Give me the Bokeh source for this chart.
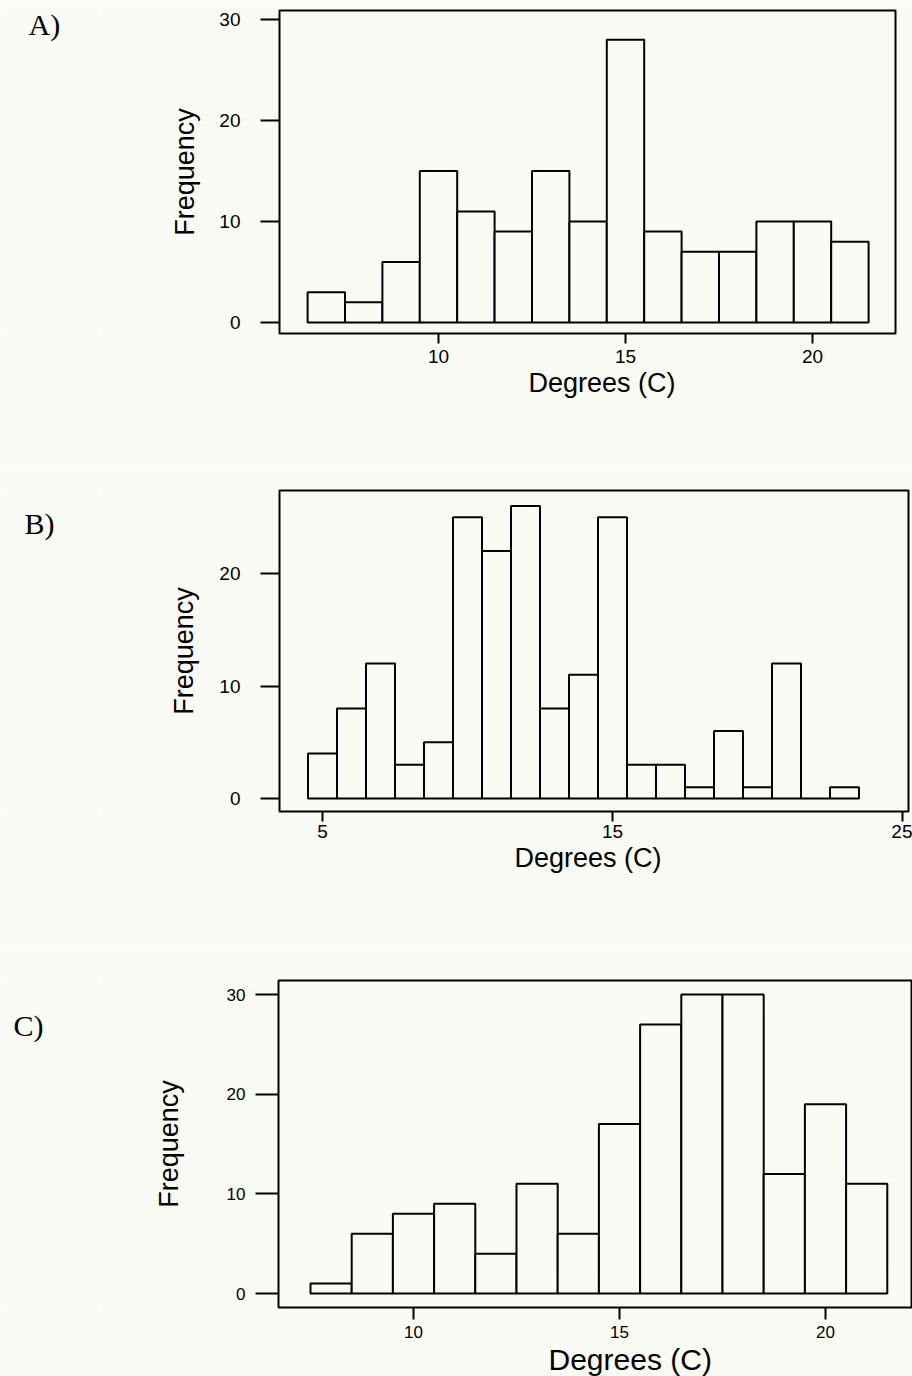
from bokeh.plotting import figure
from bokeh.layouts import column, row
from bokeh.models import FixedTicker, Range1d, Title
from bokeh.core.properties import value
from bokeh.embed import file_html
from bokeh.resources import INLINE

BG = "#fbfbf5"
SANS = "Liberation Sans"
SERIF = "Liberation Serif"

# ---------------- data ----------------
a_centers = [7, 8, 9, 10, 11, 12, 13, 14, 15, 16, 17, 18, 19, 20, 21]
a_counts = [3, 2, 6, 15, 11, 9, 15, 10, 28, 9, 7, 7, 10, 10, 8]
a_xticks = [10, 15, 20]
a_yticks = [0, 10, 20, 30]

b_centers = [5, 6, 7, 8, 9, 10, 11, 12, 13, 14, 15, 16, 17, 18, 19, 20, 21, 22, 23]
b_counts = [4, 8, 12, 3, 5, 25, 22, 26, 8, 11, 25, 3, 3, 1, 6, 1, 12, 0, 1]
b_xticks = [5, 15, 25]
b_yticks = [0, 10, 20]

c_centers = [8, 9, 10, 11, 12, 13, 14, 15, 16, 17, 18, 19, 20, 21]
c_counts = [1, 6, 8, 9, 4, 11, 6, 17, 27, 30, 30, 12, 19, 11]
c_xticks = [10, 15, 20]
c_yticks = [0, 10, 20, 30]

panel_letters = ["A)", "B)", "C)"]
x_title = "Degrees (C)"
y_title = "Frequency"

LETTER_W = 100  # width of the strip holding the panel letter


def letter_strip(letter, fig_h, pos):
    s = figure(width=LETTER_W, height=fig_h, x_range=Range1d(0, LETTER_W),
               y_range=Range1d(fig_h, 0), output_backend="svg", toolbar_location=None,
               title=None, x_axis_type=None, y_axis_type=None,
               min_border=0, min_border_left=0, min_border_right=0,
               min_border_top=0, min_border_bottom=0)
    s.background_fill_color = BG
    s.border_fill_color = BG
    s.outline_line_color = None
    s.grid.visible = False
    s.text(x=[pos[0]], y=[pos[1]], text=[letter], text_font=value(SERIF),
           text_font_size="30px", text_color="black",
           text_align="left", text_baseline="middle")
    return s


def make_panel(letter, centers, counts, xticks, yticks, fig_top, fig_h, frame,
               xcal, ycal, ytick_len, xtick_len, ylab_standoff, xlab_standoff,
               tick_size, ytitle_standoff, ytitle_size, xtitle_left, xtitle_size,
               xtitle_standoff, letter_pos):
    fl, fr, ft, fb = frame
    (xa, pxa), (xb, pxb) = xcal
    sx = (pxb - pxa) / (xb - xa)
    x0 = xa + (fl - pxa) / sx
    x1 = xa + (fr - pxa) / sx
    (ya, pya), (yb, pyb) = ycal
    sy = (pya - pyb) / (yb - ya)
    y1 = ya + (pya - ft) / sy
    y0 = ya + (pya - fb) / sy

    p = figure(width=912 - LETTER_W, height=fig_h, x_range=Range1d(x0, x1),
               y_range=Range1d(y0, y1), title=None,
               output_backend="svg", toolbar_location=None,
               min_border_left=fl - LETTER_W, min_border_right=912 - fr,
               min_border_top=ft - fig_top, min_border_bottom=fig_top + fig_h - fb)
    p.background_fill_color = BG
    p.border_fill_color = BG
    p.outline_line_color = "black"
    p.outline_line_width = 2
    p.outline_line_alpha = 1.0
    p.grid.visible = False

    lefts = [c - 0.5 for c in centers]
    rights = [c + 0.5 for c in centers]
    p.quad(left=lefts, right=rights, bottom=0, top=counts,
           fill_color=BG, line_color="black", line_width=2)

    for ax in (p.xaxis, p.yaxis):
        ax.axis_line_color = None
        ax.minor_tick_line_color = None
        ax.major_tick_in = 0
        ax.major_tick_line_color = "black"
        ax.major_tick_line_width = 2
        ax.major_label_text_font = SANS
        ax.major_label_text_font_size = f"{tick_size}px"
        ax.major_label_text_color = "black"

    p.xaxis.ticker = FixedTicker(ticks=xticks)
    p.yaxis.ticker = FixedTicker(ticks=yticks)
    p.xaxis.major_tick_out = xtick_len
    p.yaxis.major_tick_out = ytick_len
    p.xaxis.major_label_standoff = xlab_standoff
    p.yaxis.major_label_standoff = ylab_standoff

    p.yaxis.axis_label = y_title
    p.yaxis.axis_label_text_font = SANS
    p.yaxis.axis_label_text_font_style = "normal"
    p.yaxis.axis_label_text_font_size = f"{ytitle_size}px"
    p.yaxis.axis_label_text_color = "black"
    p.yaxis.axis_label_standoff = ytitle_standoff

    p.add_layout(Title(text=x_title, align="left", offset=xtitle_left - fl,
                       text_font=SANS, text_font_size=f"{xtitle_size}px",
                       text_font_style="normal", text_color="black",
                       standoff=xtitle_standoff), "below")

    strip = letter_strip(letter, fig_h, (letter_pos[0], letter_pos[1] - fig_top))
    return row(strip, p, spacing=0)


pa = make_panel(panel_letters[0], a_centers, a_counts, a_xticks, a_yticks,
                0, 465, (279, 895, 10, 333), ((10, 438), (20, 812)), ((0, 322), (30, 19)),
                19, 10, 20, 6, 19, 16, 27, 528, 27, 0, (28, 20))
pb = make_panel(panel_letters[1], b_centers, b_counts, b_xticks, b_yticks,
                465, 485, (279, 908, 490, 811), ((5, 322), (25, 902)), ((0, 798), (20, 573)),
                19, 10, 20, 3, 19, 17, 27, 514, 27, 0, (24, 515))
pc = make_panel(panel_letters[2], c_centers, c_counts, c_xticks, c_yticks,
                950, 426, (278, 912, 980, 1307), ((10, 413), (20, 825)), ((0, 1293), (30, 994)),
                23, 12, 10, 6, 17, 40, 27, 548, 30, 0, (13, 1009))

layout = column(pa, pb, pc, spacing=0)
open("out.html", "w").write(file_html(layout, INLINE))
